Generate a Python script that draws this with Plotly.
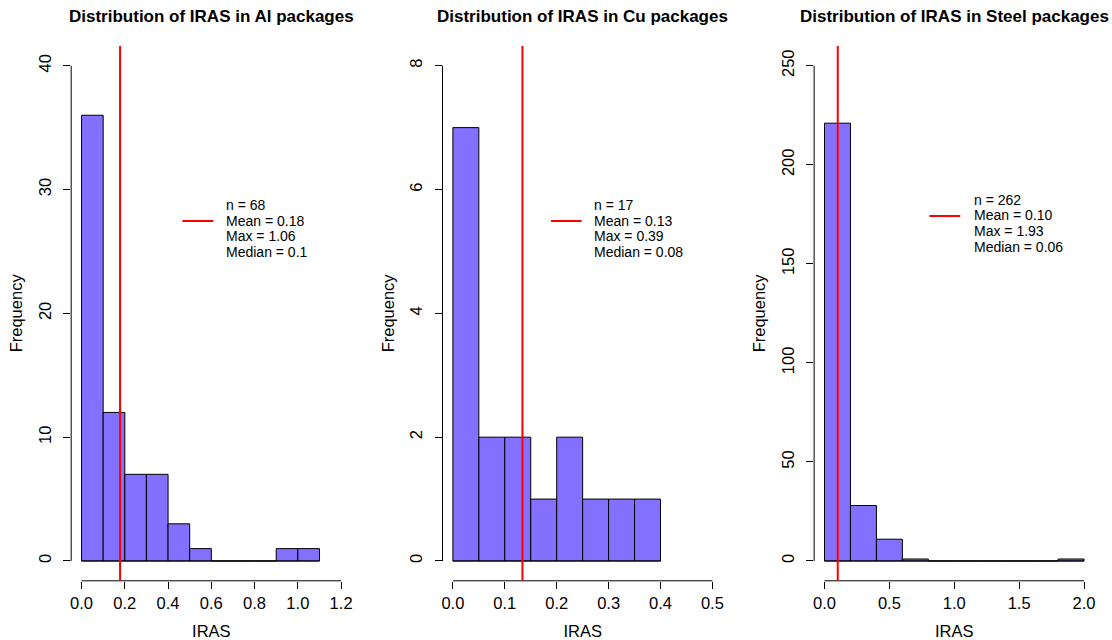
import plotly.graph_objects as go

W, H = 1112, 640

# ---------------- data ----------------
materials = ["Al", "Cu", "Steel"]

al_breaks = [0.0, 0.1, 0.2, 0.3, 0.4, 0.5, 0.6, 0.7, 0.8, 0.9, 1.0, 1.1]
al_counts = [36, 12, 7, 7, 3, 1, 0, 0, 0, 1, 1]

cu_breaks = [0.0, 0.05, 0.10, 0.15, 0.20, 0.25, 0.30, 0.35, 0.40]
cu_counts = [7, 2, 2, 1, 2, 1, 1, 1]

steel_breaks = [0.0, 0.2, 0.4, 0.6, 0.8, 1.0, 1.2, 1.4, 1.6, 1.8, 2.0]
steel_counts = [221, 28, 11, 1, 0, 0, 0, 0, 0, 1]

n_values = [68, 17, 262]
mean_values = [0.178, 0.134, 0.102]
max_values = [1.06, 0.39, 1.93]
median_values = [0.1, 0.08, 0.06]

x_ticks_al = [0.0, 0.2, 0.4, 0.6, 0.8, 1.0, 1.2]
x_ticks_cu = [0.0, 0.1, 0.2, 0.3, 0.4, 0.5]
x_ticks_steel = [0.0, 0.5, 1.0, 1.5, 2.0]
y_ticks_al = [0, 10, 20, 30, 40]
y_ticks_cu = [0, 2, 4, 6, 8]
y_ticks_steel = [0, 50, 100, 150, 200, 250]

# ---------------- layout geometry (pixels) ----------------
panel_px = [(70.3, 351.1), (442.3, 723.1), (814.6, 1095.4)]
plot_top_px, plot_bottom_px = 45.9, 580.8
legend_px = [
    dict(seg=(181.7, 212.7), seg_y=221.0, text_x=224.5, center_y=228.4),
    dict(seg=(551.0, 581.7), seg_y=221.0, text_x=593.5, center_y=228.4),
    dict(seg=(930.0, 961.0), seg_y=216.0, text_x=973.5, center_y=223.3),
]
LEGEND_FONT_PX = 14
LEGEND_LINE_PX = 15.7

FONT = "Liberation Sans, Arial, Helvetica, sans-serif"
BAR_COLOR = "#8470FF"

breaks_all = [al_breaks, cu_breaks, steel_breaks]
counts_all = [al_counts, cu_counts, steel_counts]
xticks_all = [x_ticks_al, x_ticks_cu, x_ticks_steel]
yticks_all = [y_ticks_al, y_ticks_cu, y_ticks_steel]


def px_x(v):
    return v / W


def px_y(v):
    return 1 - v / H


def pad_range(ticks):
    lo, hi = ticks[0], ticks[-1]
    d = (hi - lo) * 0.04
    return [lo - d, hi + d]


fig = go.Figure()
layout = dict(
    width=W, height=H, autosize=False,
    margin=dict(l=0, r=0, t=0, b=0),
    paper_bgcolor="white", plot_bgcolor="white",
    font=dict(family=FONT, color="black", size=16),
    showlegend=False,
)
shapes = []
annotations = []

for i in range(3):
    k = "" if i == 0 else str(i + 1)
    xa, ya = "x" + k, "y" + k
    br = breaks_all[i]
    cnt = counts_all[i]
    centers = [(br[j] + br[j + 1]) / 2 for j in range(len(cnt))]
    widths = [br[j + 1] - br[j] for j in range(len(cnt))]
    fig.add_trace(go.Bar(
        x=centers, y=cnt, width=widths,
        marker=dict(color=BAR_COLOR, line=dict(color="black", width=1)),
        xaxis=xa, yaxis=ya, showlegend=False, hoverinfo="x+y",
    ))

    xt, yt = xticks_all[i], yticks_all[i]
    x0p, x1p = panel_px[i]
    layout["xaxis" + k] = dict(
        domain=[px_x(x0p), px_x(x1p)], anchor=ya,
        range=pad_range(xt), showgrid=False, zeroline=False, showline=False,
        tickmode="array", tickvals=xt, ticktext=[f"{v:.1f}" for v in xt],
        ticks="outside", ticklen=7, tickwidth=1, tickcolor="black",
        tickfont=dict(size=16.5, family=FONT, color="black"),
        title=dict(text="IRAS", font=dict(size=16.5, family=FONT, color="black"), standoff=15),
        fixedrange=True,
    )
    layout["yaxis" + k] = dict(
        domain=[px_y(plot_bottom_px), px_y(plot_top_px)], anchor=xa,
        range=pad_range(yt), showgrid=False, zeroline=False, showline=False,
        tickmode="array", tickvals=yt, ticktext=[str(v) for v in yt],
        ticks="outside", ticklen=7, tickwidth=1, tickcolor="black",
        tickangle=-90, ticklabelstandoff=6,
        tickfont=dict(size=16.5, family=FONT, color="black"),
        title=dict(text="Frequency", font=dict(size=16.5, family=FONT, color="black"), standoff=8),
        fixedrange=True,
    )

    # R-style axis lines spanning first..last tick
    shapes.append(dict(type="line", xref=xa, yref=ya + " domain",
                       x0=xt[0], x1=xt[-1], y0=0, y1=0,
                       line=dict(color="black", width=1)))
    shapes.append(dict(type="line", xref=xa + " domain", yref=ya,
                       x0=0, x1=0, y0=yt[0], y1=yt[-1],
                       line=dict(color="black", width=1)))
    # baseline under empty bins
    shapes.append(dict(type="line", xref=xa, yref=ya,
                       x0=br[0], x1=br[-1], y0=0, y1=0,
                       line=dict(color="black", width=1), layer="above"))
    # mean line
    shapes.append(dict(type="line", xref=xa, yref=ya + " domain",
                       x0=mean_values[i], x1=mean_values[i], y0=0, y1=1,
                       line=dict(color="red", width=2), layer="above"))

    # legend key
    lg = legend_px[i]
    shapes.append(dict(type="line", xref="paper", yref="paper",
                       x0=px_x(lg["seg"][0]), x1=px_x(lg["seg"][1]),
                       y0=px_y(lg["seg_y"]), y1=px_y(lg["seg_y"]),
                       line=dict(color="red", width=2)))
    lines = [
        f"n = {n_values[i]}",
        f"Mean = {mean_values[i]:.2f}",
        f"Max = {max_values[i]}",
        f"Median = {median_values[i]}",
    ]
    nl = len(lines)
    for j, txt in enumerate(lines):
        yy = lg["center_y"] + (j - (nl - 1) / 2) * LEGEND_LINE_PX
        annotations.append(dict(
            text=txt, xref="paper", yref="paper",
            x=px_x(lg["text_x"]), y=px_y(yy),
            xanchor="left", yanchor="middle", showarrow=False, borderpad=0,
            font=dict(size=LEGEND_FONT_PX, family=FONT, color="black"),
        ))

    # panel title
    annotations.append(dict(
        text=f"Distribution of IRAS in {materials[i]} packages",
        xref=xa + " domain", yref="paper", x=0.5, y=px_y(16.5),
        xanchor="center", yanchor="middle", showarrow=False,
        font=dict(size=17, family=FONT, color="black", weight="bold"),
    ))

layout["shapes"] = shapes
layout["annotations"] = annotations
fig.update_layout(**layout)
fig.write_html(
    "out.html",
    config={"displayModeBar": False},
    post_script="document.body.style.margin='0';document.body.style.overflow='hidden';",
)
